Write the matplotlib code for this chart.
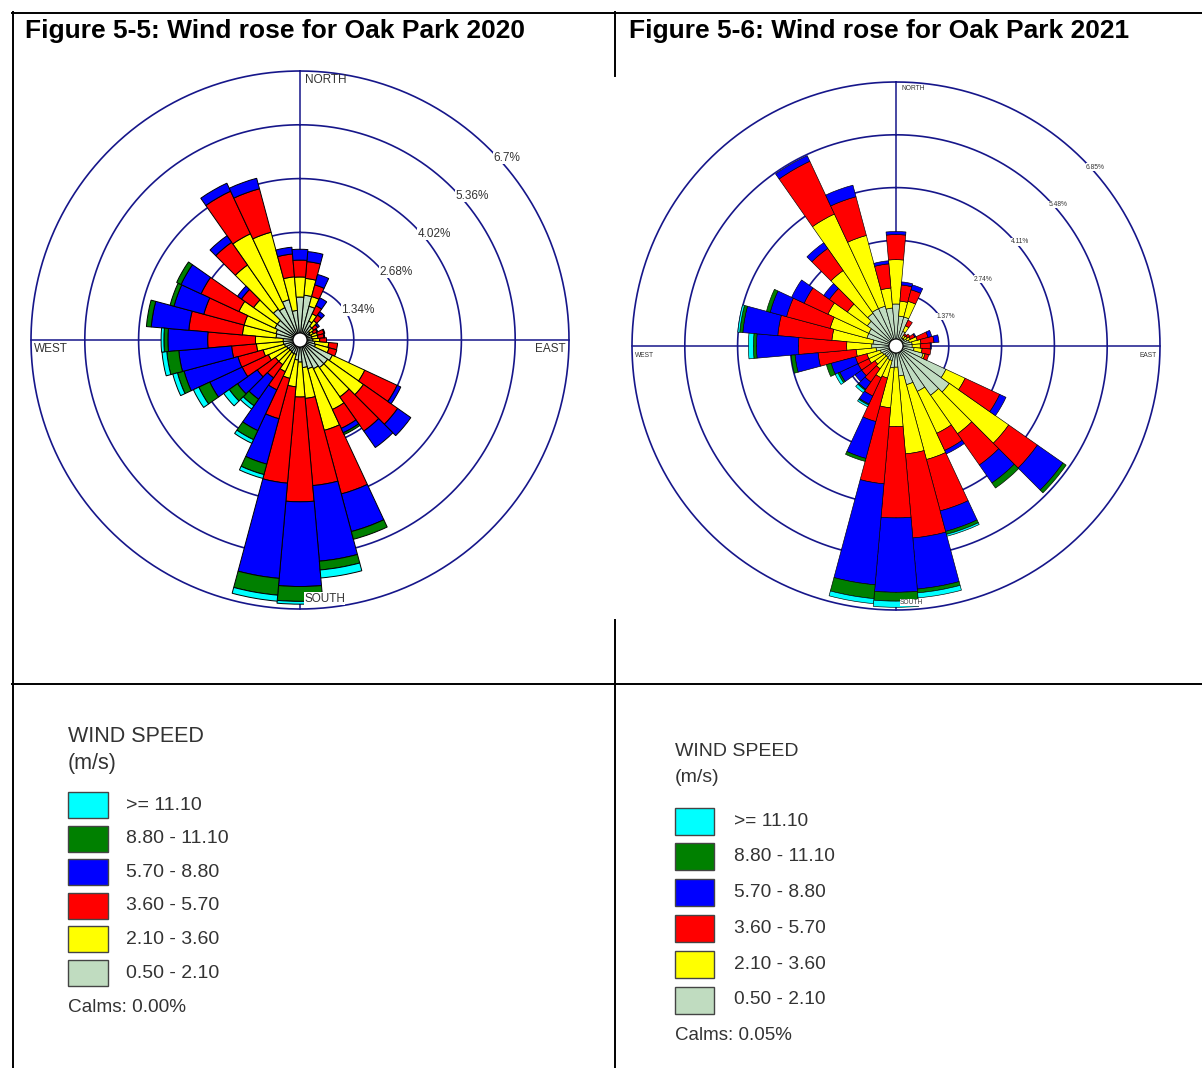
import numpy as np
import matplotlib
matplotlib.use("Agg")
import matplotlib.pyplot as plt
from matplotlib.patches import Rectangle, Circle
from matplotlib.lines import Line2D

# ── Canvas (pixel helpers) ───────────────────────────────────────────────────
W, H = 1202, 1068
def fx(x): return x / W
def fy(y): return 1 - y / H

FONT = "Liberation Sans"
RING_COL = "#16168a"
TXT_COL = "#333333"

# ── Data: frequency (%) per 10° sector (10..360) and wind-speed class ────────
DIRS = np.arange(10, 361, 10)
CLASS_LABELS = [">= 11.10", "8.80 - 11.10", "5.70 - 8.80",
                "3.60 - 5.70", "2.10 - 3.60", "0.50 - 2.10"]
CLASS_COLORS = ["#C0DCC0", "#FFFF00", "#FF0000", "#0000FF", "#008000", "#00FFFF"]  # low -> high

# 2020
s20_050 = [1.12, 0.87, 0.52, 0.42, 0.30, 0.27, 0.30, 0.30, 0.32, 0.37, 0.40, 0.89,
           0.84, 0.84, 0.79, 0.74, 0.69, 0.55, 0.50, 0.37, 0.37, 0.35, 0.35, 0.37,
           0.40, 0.42, 0.42, 0.60, 0.62, 0.69, 0.69, 0.94, 0.89, 1.04, 0.74, 1.07]
s20_210 = [0.42, 0.25, 0.20, 0.17, 0.12, 0.10, 0.15, 0.15, 0.17, 0.35, 0.35, 0.89,
           1.09, 0.89, 1.12, 1.59, 0.77, 0.87, 0.67, 0.62, 0.50, 0.40, 0.40, 0.50,
           0.55, 0.67, 0.69, 0.84, 0.82, 0.99, 0.72, 1.34, 2.03, 1.74, 0.84, 0.50]
s20_360 = [0.42, 0.30, 0.22, 0.17, 0.12, 0.10, 0.17, 0.15, 0.17, 0.22, 0.20, 0.89,
           1.04, 1.04, 0.52, 1.64, 2.18, 2.61, 2.41, 1.04, 0.50, 0.40, 0.55, 0.72,
           0.65, 0.62, 1.19, 1.34, 1.04, 1.04, 0.37, 0.69, 1.17, 1.12, 0.57, 0.42]
s20_570 = [0.25, 0.27, 0.22, 0.10, 0.05, 0.02, 0.02, 0.02, 0.00, 0.00, 0.00, 0.10,
           0.40, 0.50, 0.12, 0.97, 1.89, 2.11, 2.38, 1.17, 1.12, 0.65, 0.60, 0.89,
           1.39, 1.32, 0.99, 0.94, 0.77, 0.55, 0.12, 0.20, 0.22, 0.27, 0.17, 0.27]
s20_880 = [0.00, 0.00, 0.00, 0.00, 0.00, 0.00, 0.00, 0.00, 0.00, 0.00, 0.00, 0.00,
           0.00, 0.00, 0.05, 0.20, 0.22, 0.37, 0.42, 0.27, 0.25, 0.20, 0.25, 0.30,
           0.17, 0.30, 0.10, 0.12, 0.10, 0.12, 0.00, 0.00, 0.00, 0.00, 0.00, 0.00]
s20_1110 = [0.00, 0.00, 0.00, 0.00, 0.00, 0.00, 0.00, 0.00, 0.00, 0.00, 0.00, 0.00,
            0.00, 0.00, 0.00, 0.00, 0.20, 0.07, 0.15, 0.10, 0.10, 0.10, 0.17, 0.15,
            0.12, 0.12, 0.07, 0.00, 0.00, 0.00, 0.00, 0.00, 0.00, 0.00, 0.00, 0.00]

# 2021
s21_050 = [0.78, 0.78, 0.42, 0.26, 0.26, 0.31, 0.36, 0.42, 0.42, 0.47, 0.73, 1.43,
           1.69, 1.56, 1.30, 1.04, 0.78, 0.55, 0.57, 0.39, 0.39, 0.36, 0.36, 0.39,
           0.42, 0.52, 0.63, 0.60, 0.78, 0.78, 0.91, 1.04, 1.07, 1.07, 0.99, 1.09]
s21_210 = [0.39, 0.42, 0.16, 0.08, 0.10, 0.10, 0.21, 0.23, 0.21, 0.21, 0.05, 0.55,
           1.88, 1.22, 1.20, 2.01, 2.03, 1.54, 1.04, 0.47, 0.52, 0.36, 0.31, 0.39,
           0.36, 0.52, 0.65, 1.07, 0.99, 1.17, 0.63, 1.35, 2.71, 1.90, 0.52, 1.15]
s21_360 = [0.42, 0.31, 0.16, 0.05, 0.08, 0.13, 0.29, 0.34, 0.26, 0.23, 0.10, 0.99,
           0.91, 0.99, 0.49, 1.38, 2.19, 2.37, 1.98, 1.17, 0.52, 0.42, 0.42, 0.31,
           0.31, 0.99, 1.25, 1.41, 1.17, 0.68, 0.57, 0.70, 1.51, 1.04, 0.63, 0.65]
s21_570 = [0.08, 0.13, 0.00, 0.00, 0.00, 0.03, 0.10, 0.13, 0.03, 0.00, 0.00, 0.18,
           0.81, 0.57, 0.10, 0.55, 1.33, 1.93, 2.63, 0.99, 0.23, 0.23, 0.21, 0.52,
           0.65, 0.60, 1.09, 0.91, 0.44, 0.36, 0.18, 0.18, 0.16, 0.31, 0.08, 0.08]
s21_880 = [0.00, 0.00, 0.00, 0.00, 0.00, 0.00, 0.00, 0.00, 0.00, 0.00, 0.00, 0.00,
           0.10, 0.16, 0.00, 0.08, 0.10, 0.23, 0.36, 0.08, 0.03, 0.03, 0.00, 0.05,
           0.13, 0.10, 0.08, 0.08, 0.10, 0.00, 0.00, 0.00, 0.00, 0.00, 0.00, 0.00]
s21_1110 = [0.00, 0.00, 0.00, 0.00, 0.00, 0.00, 0.00, 0.00, 0.00, 0.00, 0.00, 0.00,
            0.00, 0.00, 0.00, 0.05, 0.13, 0.16, 0.13, 0.00, 0.05, 0.08, 0.00, 0.08,
            0.00, 0.00, 0.13, 0.05, 0.00, 0.00, 0.00, 0.00, 0.00, 0.00, 0.00, 0.00]

RINGS_20 = [1.34, 2.68, 4.02, 5.36, 6.70]
RING_LBL_20 = ["1.34%", "2.68%", "4.02%", "5.36%", "6.7%"]
RINGS_21 = [1.37, 2.74, 4.11, 5.48, 6.85]
RING_LBL_21 = ["1.37%", "2.74%", "4.11%", "5.48%", "6.85%"]
CALMS = ["Calms: 0.00%", "Calms: 0.05%"]
TITLES = ["Figure 5-5: Wind rose for Oak Park 2020",
          "Figure 5-6: Wind rose for Oak Park 2021"]

fig = plt.figure(figsize=(W / 100, H / 100), dpi=100)
fig.patch.set_facecolor("white")


def draw_rose(cx, cy, R, rings, ring_lbls, classes, edge_lw, fs_dir, fs_ring, hole):
    rmax = rings[-1]
    ax = fig.add_axes([fx(cx - R), fy(cy + R), 2 * R / W, 2 * R / H],
                      projection="polar")
    ax.set_theta_zero_location("N")
    ax.set_theta_direction(-1)
    ax.set_ylim(0, rmax)
    ax.axis("off")
    ax.patch.set_alpha(0)

    t = np.linspace(0, 2 * np.pi, 400)
    for r in rings:
        ax.plot(t, np.full_like(t, r), color=RING_COL, lw=1.2, clip_on=False, zorder=1)
    ax.plot([0, 0, np.pi, np.pi], [rmax, 0, 0, rmax], color=RING_COL, lw=1.1,
            clip_on=False, zorder=1)
    ax.plot([np.pi / 2, np.pi / 2, 3 * np.pi / 2, 3 * np.pi / 2], [rmax, 0, 0, rmax],
            color=RING_COL, lw=1.1, clip_on=False, zorder=1)

    theta = np.radians(DIRS)
    bottom = np.zeros(len(DIRS))
    for vals, col in zip(classes, CLASS_COLORS):
        vals = np.asarray(vals, dtype=float)
        m = vals > 0
        ax.bar(theta[m], vals[m], width=np.radians(10), bottom=bottom[m],
               color=col, edgecolor="black", linewidth=edge_lw, zorder=3)
        bottom += vals

    ax.add_patch(Circle((0.5, 0.5), hole / (2 * R), transform=ax.transAxes,
                        facecolor="white", edgecolor="black", lw=0.8, zorder=5))

    # direction labels
    kw = dict(fontsize=fs_dir, family=FONT, color=TXT_COL, zorder=6)
    fig.text(fx(cx + 0.02 * R), fy(cy - R + 0.01 * R), "NORTH", ha="left", va="top", **kw)
    fig.text(fx(cx - R + 0.012 * R), fy(cy + 0.035 * R), "WEST", ha="left", va="center", **kw)
    fig.text(fx(cx + R - 0.012 * R), fy(cy + 0.035 * R), "EAST", ha="right", va="center", **kw)
    fig.text(fx(cx + 0.015 * R), fy(cy + R - 0.015 * R), "SOUTH", ha="left", va="bottom",
             bbox=dict(facecolor="white", edgecolor="none", pad=0.3), **kw)

    # ring labels along the 45° line
    s = R / rmax
    for r, lbl in zip(rings, ring_lbls):
        px = cx + r * s * np.sin(np.radians(45)) + 0.012 * R
        py = cy - r * s * np.cos(np.radians(45)) + 0.03 * R
        fig.text(fx(px), fy(py), lbl, ha="left", va="center", fontsize=fs_ring,
                 family=FONT, color=TXT_COL, zorder=6,
                 bbox=dict(facecolor="white", edgecolor="none", pad=0.2))
    return ax


draw_rose(300, 340, 269, RINGS_20, RING_LBL_20,
          [s20_050, s20_210, s20_360, s20_570, s20_880, s20_1110],
          edge_lw=0.7, fs_dir=8.5, fs_ring=8.5, hole=7)
draw_rose(896, 346, 264, RINGS_21, RING_LBL_21,
          [s21_050, s21_210, s21_360, s21_570, s21_880, s21_1110],
          edge_lw=0.45, fs_dir=4.8, fs_ring=4.8, hole=7)

# ── Table frame ──────────────────────────────────────────────────────────────
def hline(y, x0, x1):
    fig.add_artist(Line2D([fx(x0), fx(x1)], [fy(y), fy(y)], color="black", lw=1.4))
def vline(x, y0, y1):
    fig.add_artist(Line2D([fx(x), fx(x)], [fy(y0), fy(y1)], color="black", lw=1.4))

hline(12.5, 12, W)
hline(684, 12, W)
vline(12.5, 12, H)
vline(615, 12, 76)
vline(615, 620, H)

# ── Titles ───────────────────────────────────────────────────────────────────
fig.text(fx(25), fy(31), TITLES[0], fontsize=19, fontweight="bold", family=FONT,
         va="center", ha="left")
fig.text(fx(629), fy(31), TITLES[1], fontsize=19, fontweight="bold", family=FONT,
         va="center", ha="left")

# ── Legends ──────────────────────────────────────────────────────────────────
def draw_legend(x0, y_head, row_y0, row_dy, box_w, box_h, lbl_x, calm_y, calm,
                fs_head, fs, fs_calm):
    fig.text(fx(x0), fy(y_head), "WIND SPEED", fontsize=fs_head, family=FONT,
             color=TXT_COL, va="center", ha="left")
    fig.text(fx(x0), fy(y_head + 27), "(m/s)", fontsize=fs_head, family=FONT,
             color=TXT_COL, va="center", ha="left")
    for i, (lbl, col) in enumerate(zip(CLASS_LABELS, CLASS_COLORS[::-1])):
        yc = row_y0 + i * row_dy
        fig.add_artist(Rectangle((fx(x0), fy(yc + box_h / 2)), box_w / W, box_h / H,
                                 transform=fig.transFigure, facecolor=col,
                                 edgecolor="#444444", lw=1.0))
        fig.text(fx(lbl_x), fy(yc), lbl, fontsize=fs, family=FONT, color=TXT_COL,
                 va="center", ha="left")
    fig.text(fx(x0), fy(calm_y), calm, fontsize=fs_calm, family=FONT, color=TXT_COL,
             va="center", ha="left")

draw_legend(68, 737, 805, 33.6, 40, 26, 126, 1008, CALMS[0], 15.5, 14, 13.7)
draw_legend(675, 751, 821, 35.8, 39, 27, 734, 1035, CALMS[1], 14, 13.8, 13.5)

fig.savefig("out.png", dpi=100, facecolor="white")
